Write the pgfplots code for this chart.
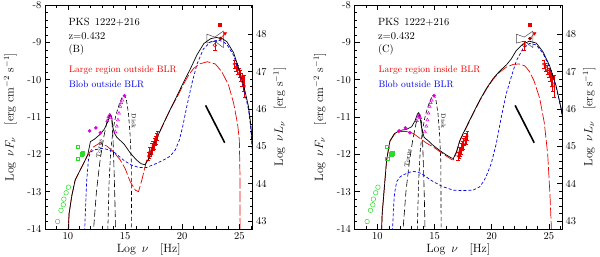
\documentclass[border=0pt]{standalone}
\usepackage{pgfplots}
\usepackage{pgfplotstable}
\pgfplotsset{compat=1.18}
\definecolor{mred}{RGB}{235,0,0}
\definecolor{mblue}{RGB}{0,0,235}
\definecolor{mmag}{RGB}{220,0,220}
\definecolor{mgreen}{RGB}{40,220,40}
\definecolor{dred}{RGB}{150,0,0}

% ---------- shared data ----------
\pgfplotstableread{
x y
9.1 -13.8
9.4 -13.5
9.6 -13.35
9.65 -13.2
9.85 -13.03
10.05 -12.88
}\radio
\pgfplotstableread{
x y
10.85 -11.8
10.87 -12.12
11.22 -12.0
}\radsq
\pgfplotstableread{
x y
11.9 -11.37
12.45 -11.29
12.85 -11.42
14.95 -10.43
}\magfill
\pgfplotstableread{
x y
13.45 -11.1
13.55 -11.0
13.65 -10.95
13.75 -11.02
14.15 -11.4
14.28 -11.25
14.38 -11.08
14.47 -10.9
14.58 -10.72
14.66 -10.62
14.75 -10.55
}\magopen
\pgfplotstableread{
x y e
17.05 -12.05 0.12
17.15 -11.95 0.15
17.25 -11.92 0.12
17.35 -11.85 0.15
17.45 -11.78 0.12
17.55 -11.72 0.15
17.65 -11.63 0.12
17.75 -11.58 0.15
17.85 -11.5 0.12
}\xray
\pgfplotstableread{
x y e
24.55 -9.58 0.10
24.7 -9.66 0.10
24.85 -9.74 0.12
25.0 -9.82 0.12
25.1 -9.9 0.15
25.22 -10.0 0.18
25.33 -10.1 0.20
25.45 -10.18 0.30
}\tev
\pgfplotstableread{
x y
12.2 -14.2
12.5 -13.0
12.8 -12.2
13.1 -11.6
13.4 -11.15
13.6 -10.97
13.72 -10.93
13.85 -11.1
13.95 -11.6
14.05 -12.5
14.12 -13.3
14.18 -14.2
}\torus
\pgfplotstableread{
x y
13.48 -14.2
13.6 -12.8
13.75 -11.9
13.95 -11.35
14.2 -10.95
14.5 -10.65
14.75 -10.47
14.93 -10.41
15.1 -10.5
15.3 -10.9
15.45 -11.5
15.55 -12.2
15.58 -14.2
}\disk

% ---------- panel B ----------
\pgfplotstableread{
x y
10.0 -14.2
10.1 -13.6
10.35 -13.1
10.64 -12.69
11.08 -12.42
11.66 -12.06
12.24 -11.8
12.83 -11.69
13.41 -11.78
13.99 -11.93
14.58 -12.15
15.01 -12.38
15.45 -12.73
15.9 -12.96
16.18 -13.0
16.47 -12.69
16.9 -12.15
17.35 -11.85
17.78 -11.57
18.37 -11.18
18.95 -10.8
19.53 -10.48
20.12 -10.12
20.6 -9.86
21.0 -9.7
21.5 -9.58
22.2 -9.52
22.9 -9.58
23.47 -9.79
24.05 -10.14
24.5 -10.63
24.85 -11.2
25.0 -11.62
25.05 -12.5
25.07 -14.2
}\redB
\pgfplotstableread{
x y
11.45 -14.2
11.55 -13.4
11.65 -12.7
11.8 -12.15
11.95 -11.95
12.3 -11.88
13.0 -11.84
13.5 -11.87
14.0 -11.93
14.85 -12.15
15.5 -12.28
16.2 -12.35
16.9 -12.35
17.7 -12.25
18.5 -12.13
18.95 -12.05
19.4 -11.88
19.75 -11.62
20.05 -11.25
20.4 -10.72
20.85 -10.1
21.3 -9.58
21.85 -9.18
22.45 -8.99
23.1 -8.94
23.6 -8.98
24.0 -9.1
24.5 -9.35
24.95 -9.76
25.4 -10.25
25.8 -10.8
26.0 -11.3
26.15 -12.0
26.2 -14.2
}\blueB
\pgfplotstableread{
x y
10.05 -14.2
10.1 -13.6
10.35 -13.1
10.64 -12.69
11.08 -12.42
11.5 -12.17
11.75 -12.0
11.88 -11.8
11.97 -11.66
12.3 -11.6
12.8 -11.47
13.2 -11.32
13.5 -11.12
13.7 -10.93
13.82 -10.98
13.95 -11.3
14.1 -11.45
14.3 -11.55
14.9 -11.72
15.5 -11.98
16.0 -12.15
16.4 -12.25
16.75 -12.28
17.1 -12.1
17.5 -11.77
17.8 -11.55
18.4 -11.15
19.0 -10.77
19.5 -10.46
20.1 -10.08
20.7 -9.72
21.3 -9.33
21.9 -9.03
22.5 -8.9
23.0 -8.87
23.5 -8.9
23.9 -8.98
24.5 -9.28
24.95 -9.7
25.4 -10.18
25.8 -10.72
26.0 -11.2
26.2 -12.0
}\blackB

% ---------- panel C ----------
\pgfplotstableread{
x y
10.35 -14.2
10.42 -13.6
10.58 -13.0
10.81 -12.15
11.1 -11.65
11.5 -11.46
12.0 -11.39
12.56 -11.39
13.14 -11.44
13.72 -11.57
14.3 -11.7
14.88 -11.8
15.47 -11.93
16.05 -12.05
16.5 -12.14
16.65 -12.15
16.92 -11.95
17.21 -11.65
17.5 -11.46
17.79 -11.28
18.37 -10.92
18.95 -10.57
19.53 -10.26
20.12 -9.99
20.7 -9.8
21.3 -9.66
21.9 -9.59
22.4 -9.58
22.9 -9.63
23.3 -9.78
23.7 -10.03
24.2 -10.5
24.6 -11.15
24.9 -12.0
25.1 -13.1
25.25 -14.2
}\redC
\pgfplotstableread{
x y
11.3 -14.2
11.4 -13.5
11.5 -13.05
11.69 -12.73
12.0 -12.6
12.27 -12.55
12.8 -12.48
13.2 -12.46
13.6 -12.48
14.01 -12.55
14.88 -12.73
15.76 -12.87
16.63 -12.96
17.5 -12.97
18.37 -12.96
18.95 -12.87
19.3 -12.72
19.53 -12.58
19.97 -12.24
20.41 -11.7
20.84 -11.0
21.28 -10.37
21.72 -9.92
22.15 -9.5
22.73 -9.17
23.31 -9.03
23.9 -9.07
24.48 -9.29
25.06 -9.66
25.64 -10.2
26.08 -10.8
26.25 -11.15
}\blueC
\pgfplotstableread{
x y
10.35 -14.2
10.42 -13.6
10.58 -13.0
10.81 -12.15
11.1 -11.64
11.5 -11.44
12.0 -11.36
12.56 -11.33
13.0 -11.26
13.3 -11.1
13.5 -10.92
13.62 -10.88
13.75 -11.05
13.9 -11.35
14.1 -11.55
14.5 -11.65
14.88 -11.76
15.47 -11.9
16.05 -12.02
16.5 -12.1
16.65 -12.11
16.92 -11.93
17.21 -11.63
17.5 -11.44
17.79 -11.26
18.37 -10.9
18.95 -10.55
19.53 -10.24
20.12 -9.97
20.7 -9.77
21.3 -9.6
21.7 -9.45
22.15 -9.22
22.7 -9.05
23.3 -8.97
23.9 -9.02
24.48 -9.25
25.06 -9.62
25.64 -10.17
26.08 -10.78
26.25 -11.1
}\blackC

\pgfplotsset{
  sedbase/.style={width=207.5pt,height=224pt,scale only axis,
    xmin=8,xmax=26.15,
    tick label style={font=\fontsize{10.5}{12}\selectfont},
    label style={font=\fontsize{12}{14}\selectfont},
    /pgf/number format/assume math mode=true,
    major tick length=5pt, minor tick length=2.6pt,
    tick style={black,line width=0.5pt}},
  sedaxis/.style={sedbase,ymin=-14,ymax=-8,clip=true,
    xtick={10,15,20,25}, minor xtick={8,9,...,26},
    ytick={-14,-13,...,-8}, minor tick num=4,
    ytick pos=left, xtick pos=both,
    xlabel={Log\, $\nu$ \ \ [Hz]},
    ylabel={Log\, $\nu F_\nu$ \ \ [erg cm$^{-2}$ s$^{-1}$]},
    xlabel style={yshift=3pt},
    ylabel style={yshift=4pt}},
  raxis/.style={sedbase,ymin=42.786,ymax=48.786,
    axis x line=none, axis y line*=right,
    ytick={43,...,48}, minor tick num=4,
    ylabel={Log\, $\nu L_\nu$ \ \ [erg s$^{-1}$]},
    ylabel style={yshift=0pt}},
  sync/.style={line width=0.7pt},
}
\tikzset{
  annot/.style={anchor=west,font=\fontsize{10.5}{12}\selectfont},
  annotc/.style={anchor=west,font=\fontsize{9.5}{11}\selectfont},
  lab/.style={inner sep=0pt,font=\fontsize{6}{7}\selectfont},
}

\newcommand{\commonpoints}{%
  \addplot[only marks, mark=o, mark size=2.3pt, mgreen, line width=0.5pt] table[x=x,y=y]{\radio};
  \addplot[only marks, mark=square, mark size=1.8pt, mgreen, line width=0.5pt] table[x=x,y=y]{\radsq};
  \addplot[only marks, mark=square*, mark size=1.8pt, mgreen] coordinates {(11.3,-11.97)};
  \addplot[only marks, mark=*, mark size=1.6pt, mmag] table[x=x,y=y]{\magfill};
  \addplot[only marks, mark=triangle, mark size=1.8pt, mmag, line width=0.5pt] table[x=x,y=y]{\magopen};
  \addplot[only marks, mark=asterisk, mark size=1.6pt, mred, line width=0.4pt,
     error bars/.cd, y dir=both, y explicit, error bar style={mred,line width=0.4pt}] table[x=x,y=y,y error=e]{\xray};
  \addplot[only marks, mark=asterisk, mark size=1.6pt, mred, line width=0.4pt,
     error bars/.cd, y dir=both, y explicit, error bar style={mred,line width=0.4pt}] table[x=x,y=y,y error=e]{\tev};
  \addplot[black!70, line width=0.5pt] coordinates {(22.15,-8.78) (22.85,-8.86) (23.6,-8.7) (23.6,-9.14) (22.85,-8.97) (22.15,-9.02) (22.15,-8.78)};
  \addplot[mred, line width=0.5pt] coordinates {(23.35,-8.9) (23.75,-8.76)};
  \addplot[only marks, mark=o, mark size=1.8pt, mred, line width=0.5pt,
     error bars/.cd, y dir=both, y fixed=0.12, error bar style={mred}] coordinates {(22.85,-9.08)};
  \addplot[only marks, mark=*, mark size=1.6pt, dred] coordinates {(23.35,-8.9)};
  \addplot[only marks, mark=triangle*, mark size=1.8pt, mred, mark options={rotate=180}] coordinates {(23.75,-8.76)};
  \addplot[only marks, mark=square*, mark size=1.5pt, mred] coordinates {(23.3,-8.52)};
  \addplot[black, line width=1.6pt] coordinates {(22.05,-10.69) (23.72,-11.69)};
  \addplot[black, line width=0.6pt, dash pattern=on 7pt off 3pt] table[x=x,y=y]{\torus};
  \addplot[black, line width=0.6pt, dash pattern=on 4pt off 2.5pt] table[x=x,y=y]{\disk};
}

\begin{document}
\begin{tikzpicture}
\path[use as bounding box] (0,0) rectangle (600pt,257pt);

% ======== panel B ========
\begin{axis}[sedaxis, at={(45pt,28pt)}, anchor=south west]
  \commonpoints
  \addplot[mblue, sync, dash pattern=on 3pt off 2pt] table[x=x,y=y]{\blueB};
  \addplot[mred, sync, dash pattern=on 11pt off 2.5pt] table[x=x,y=y]{\redB};
  \addplot[black, sync] table[x=x,y=y]{\blackB};
  \node[annot] at (axis cs:9.75,-8.45) {PKS\, 1222+216};
  \node[annot] at (axis cs:9.75,-8.82) {z=0.432};
  \node[annot] at (axis cs:9.75,-9.2) {(B)};
  \node[annotc,text=mred] at (axis cs:9.8,-9.74) {Large region outside BLR};
  \node[annotc,text=mblue] at (axis cs:9.8,-10.12) {Blob outside BLR};
  \node[lab,rotate=82] at (axis cs:12.75,-11.85) {Torus};
  \node[lab,rotate=-90] at (axis cs:15.78,-11.1) {Disk};
\end{axis}
\begin{axis}[raxis, at={(45pt,28pt)}, anchor=south west]
  \addplot[draw=none] coordinates {(10,45)};
\end{axis}

% ======== panel C ========
\begin{axis}[sedaxis, at={(354.5pt,28pt)}, anchor=south west]
  \commonpoints
  \addplot[mblue, sync, dash pattern=on 3pt off 2pt] table[x=x,y=y]{\blueC};
  \addplot[mred, sync, dash pattern=on 11pt off 2.5pt] table[x=x,y=y]{\redC};
  \addplot[black, sync] table[x=x,y=y]{\blackC};
  \node[annot] at (axis cs:9.75,-8.45) {PKS\, 1222+216};
  \node[annot] at (axis cs:9.75,-8.82) {z=0.432};
  \node[annot] at (axis cs:9.75,-9.2) {(C)};
  \node[annotc,text=mred] at (axis cs:9.8,-9.74) {Large region inside BLR};
  \node[annotc,text=mblue] at (axis cs:9.8,-10.12) {Blob outside BLR};
  \node[lab,rotate=82] at (axis cs:12.65,-12.1) {Torus};
  \node[lab,rotate=-90] at (axis cs:15.78,-11.1) {Disk};
\end{axis}
\begin{axis}[raxis, at={(354.5pt,28pt)}, anchor=south west]
  \addplot[draw=none] coordinates {(10,45)};
\end{axis}
\end{tikzpicture}
\end{document}
